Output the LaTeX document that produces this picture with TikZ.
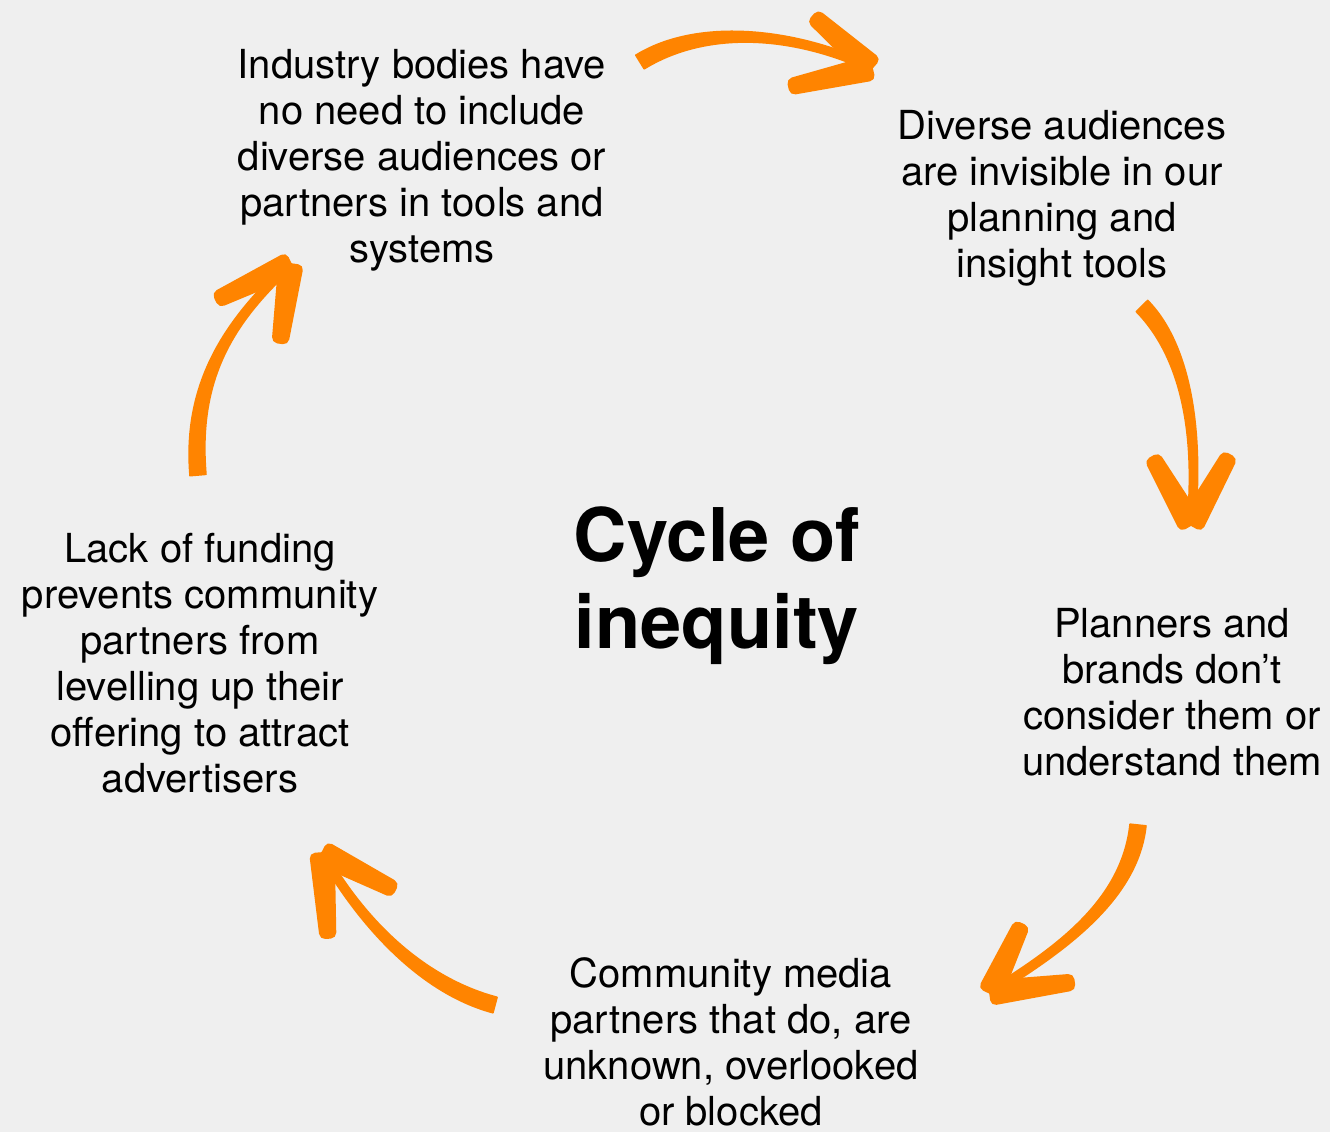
\documentclass[tikz,border=0pt]{standalone}
\usepackage{fontspec}
\setmainfont{TeX Gyre Heros}
\usetikzlibrary{calc}
\definecolor{bgc}{HTML}{EFEFEF}
\definecolor{arrowc}{HTML}{FF8400}

% tapered brush shaft: tail, control 1, control 2, tip
\newcommand{\brushshaft}[4]{%
  \fill[brush] ($(#1)!4pt!90:(#2)$) .. controls ($(#2)!4pt!-90:(#1)$) and ($(#3)!2pt!90:(#4)$) .. ($(#4)!2pt!-90:(#3)$)
    -- ($(#4)!2pt!90:(#3)$) .. controls ($(#3)!2pt!-90:(#4)$) and ($(#2)!4pt!90:(#1)$) .. ($(#1)!4pt!-90:(#2)$) -- cycle;}
% one stroke of the head: loose end, tip
\newcommand{\brusharm}[2]{%
  \fill[brush, rounded corners=2.5pt] ($(#1)!3.8pt!90:(#2)$) -- ($(#2)!6pt!-90:(#1)$) -- ($(#2)!6pt!90:(#1)$) -- ($(#1)!3.8pt!-90:(#2)$) -- cycle;}

\begin{document}
\begin{tikzpicture}[x=0.5pt, y=-0.5pt,
  brush/.style={fill=arrowc, draw=arrowc, line width=0.8pt, line join=round},
  step text/.style={align=center, inner sep=0pt, anchor=north, font=\fontsize{20pt}{23pt}\selectfont},
  title text/.style={align=center, inner sep=0pt, anchor=north, font=\fontsize{37pt}{43.5pt}\selectfont\bfseries}]
\fill[bgc] (0,0) rectangle (1330,1132);
\useasboundingbox (0,0) rectangle (1330,1132);

% the five steps, clockwise from top left
\node[step text] (bodies) at (422,49) {Industry bodies have\\no need to include\\diverse audiences or\\partners in tools and\\systems};
\node[step text] (invisible) at (1062,110) {Diverse audiences\\are invisible in our\\planning and\\insight tools};
\node[step text] (planners) at (1172,608) {Planners and\\brands don’t\\consider them or\\understand them};
\node[step text] (community) at (731,957) {Community media\\partners that do, are\\unknown, overlooked\\or blocked};
\node[step text] (funding) at (200,533) {Lack of funding\\prevents community\\partners from\\levelling up their\\offering to attract\\advertisers};
% centre
\node[title text] (title) at (717,506) {Cycle of\\inequity};

% arrow ends
\coordinate (a1 tail) at (640,62);   \coordinate (a1 tip) at (872,68);
\coordinate (a1 up) at (813,16);     \coordinate (a1 low) at (789,87);
\coordinate (a2 tail) at (1142,306); \coordinate (a2 tip) at (1191,525);
\coordinate (a2 left) at (1152,457); \coordinate (a2 right) at (1230,455);
\coordinate (a3 tail) at (1138,825); \coordinate (a3 tip) at (990,993);
\coordinate (a3 up) at (1022,924);   \coordinate (a3 right) at (1074,982);
\coordinate (a4 tail) at (495,1005); \coordinate (a4 tip) at (322,853);
\coordinate (a4 right) at (395,890); \coordinate (a4 low) at (328,938);
\coordinate (a5 tail) at (198,475);  \coordinate (a5 tip) at (291,264);
\coordinate (a5 left) at (216,300);  \coordinate (a5 low) at (280,343);

% bodies -> invisible
\brushshaft{a1 tail}{700,25}{790,30}{a1 tip}
\brusharm{a1 up}{a1 tip} \brusharm{a1 low}{a1 tip}
% invisible -> planners
\brushshaft{a2 tail}{1185,350}{1200,430}{a2 tip}
\brusharm{a2 left}{a2 tip} \brusharm{a2 right}{a2 tip}
% planners -> community
\brushshaft{a3 tail}{1130,900}{1060,950}{a3 tip}
\brusharm{a3 up}{a3 tip} \brusharm{a3 right}{a3 tip}
% community -> funding
\brushshaft{a4 tail}{420,985}{360,920}{a4 tip}
\brusharm{a4 right}{a4 tip} \brusharm{a4 low}{a4 tip}
% funding -> bodies
\brushshaft{a5 tail}{190,380}{230,320}{a5 tip}
\brusharm{a5 left}{a5 tip} \brusharm{a5 low}{a5 tip}
\end{tikzpicture}
\end{document}
